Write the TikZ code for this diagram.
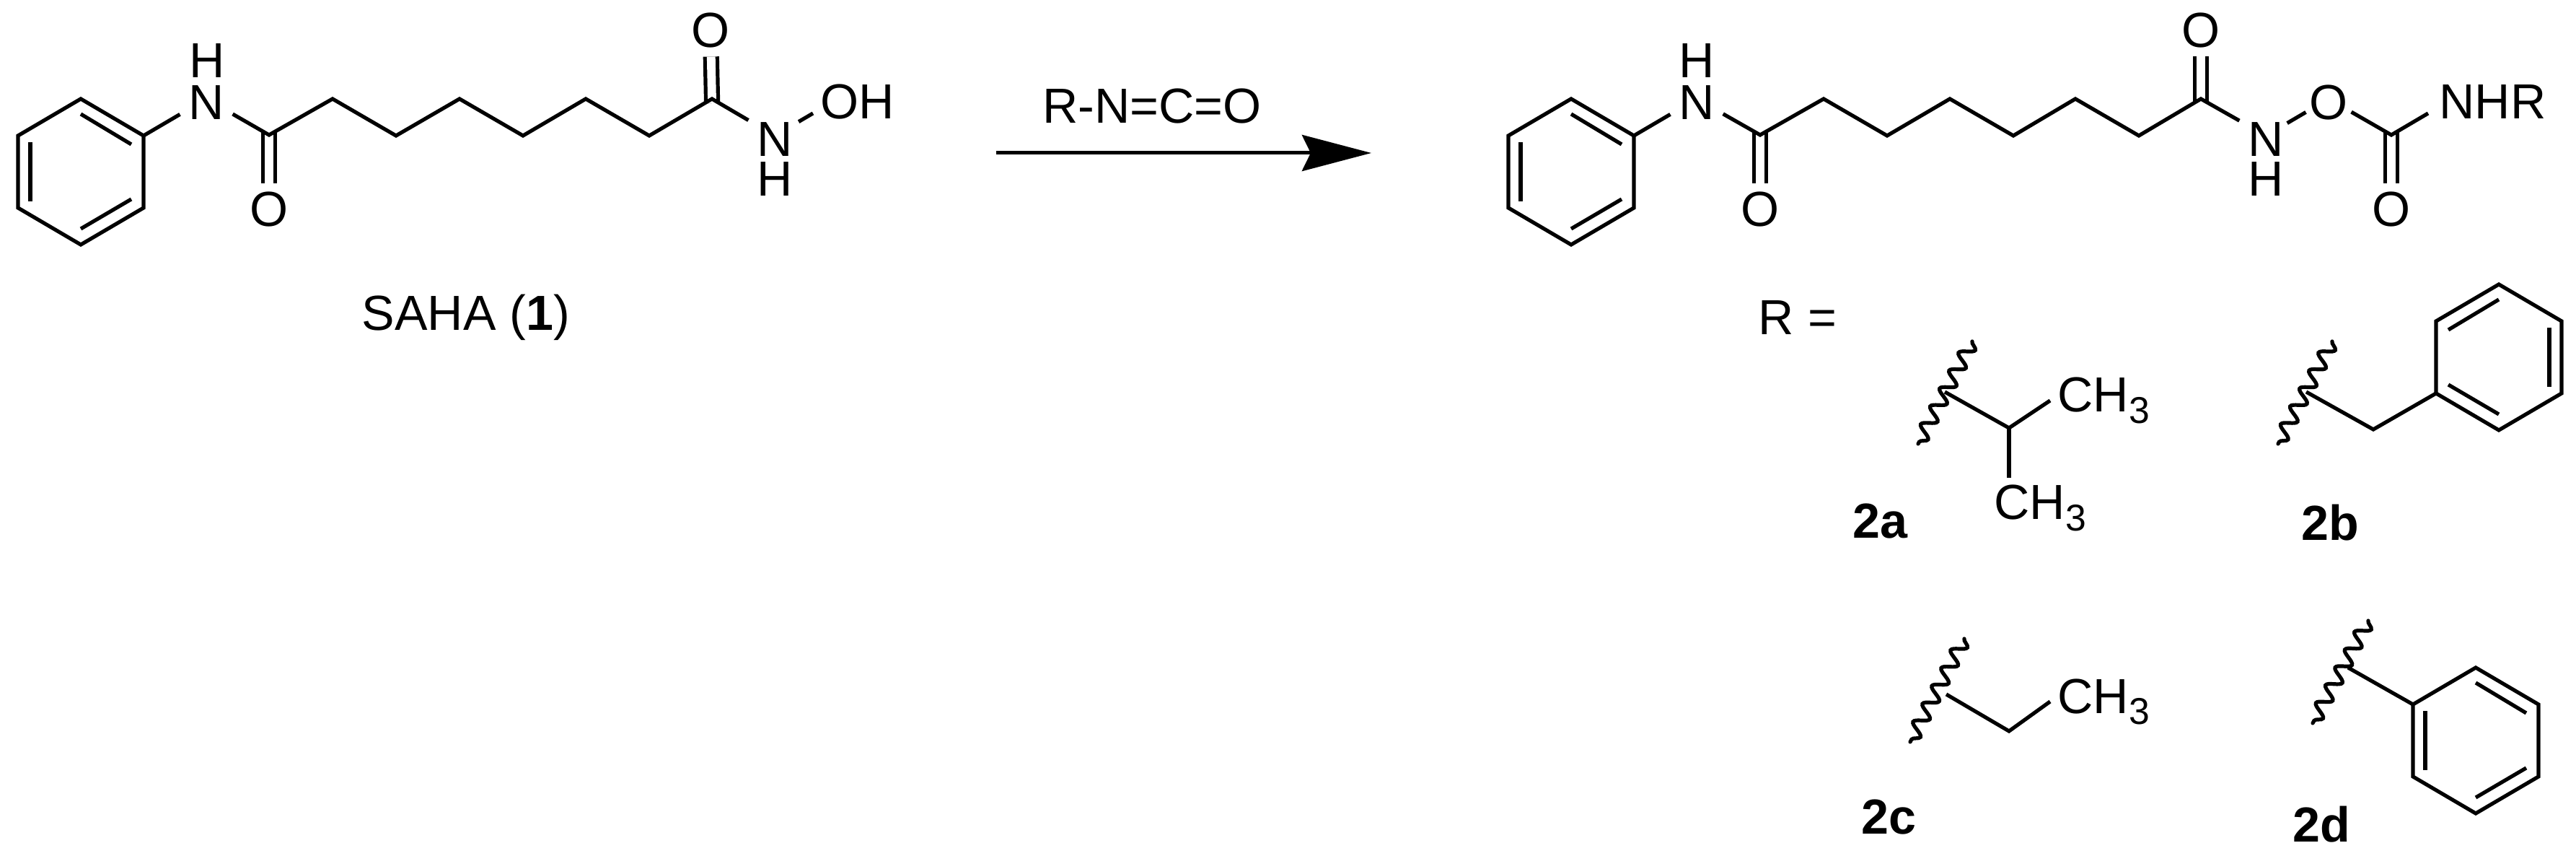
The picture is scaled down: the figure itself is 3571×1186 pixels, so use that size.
\documentclass[tikz,border=0pt]{standalone}
\usepackage{fontspec}
\setmainfont{Liberation Sans}
\usetikzlibrary{arrows.meta,decorations.pathmorphing}

\newcommand{\phring}[4]{
    \begin{scope}[shift={(#2,#3)}, xscale=#4]
        \coordinate (#1a) at (0,-101);
        \coordinate (#1b) at (87,-50);
        \coordinate (#1c) at (87,50);
        \coordinate (#1d) at (0,101);
        \coordinate (#1e) at (-87,50);
        \coordinate (#1f) at (-87,-50);
        \coordinate (#1p) at (0,-80);
        \coordinate (#1q) at (70,-38);
        \coordinate (#1r) at (70,38);
        \coordinate (#1s) at (0,79);
        \coordinate (#1t) at (-70,-41);
        \coordinate (#1u) at (-70,41);
        \draw[bond] (#1a) -- (#1b) -- (#1c) -- (#1d) -- (#1e) -- (#1f) -- cycle;
        \draw[bond] (#1p) -- (#1q);
        \draw[bond] (#1r) -- (#1s);
        \draw[bond] (#1t) -- (#1u);
    \end{scope}
}
\newcommand{\methyl}{CH\raisebox{-4.3pt}{\fontsize{14.7}{15}\selectfont 3}}

\begin{document}
\begin{tikzpicture}[x=0.01cm, y=-0.01cm,
        every node/.style={font=\fontsize{19.4}{20}\selectfont, inner sep=0pt},
        bond/.style={line width=.052cm},
        dbl/.style={line width=.052cm, double distance=.118cm, shorten <=-.06cm},
        atom/.style={text height=16pt, text depth=0pt},
        oxy/.style={circle, minimum size=.68cm},
        wave/.style={line width=.052cm, line cap=round, decorate, decoration={snake, amplitude=.095cm, segment length=.28cm}}]
    \useasboundingbox (0,0) rectangle (3571,1186);

    \foreach \name/\px/\py in {c1/373/187, c2/461/137, c3/549/188, c4/637/137, c5/725/188, c6/812/137, c7/900/188, c8/987/137,
            d1/2440/187, d2/2528/137, d3/2616/188, d4/2703/137, d5/2791/188, d6/2877/137, d7/2965/188, d8/3051/137, d9/3315/187,
            am/2785/593, ai/2734/473, aj/2696/543, ak/2659/615,
            bm/3290/595, bi/3233/473, bj/3197/543, bk/3158/615,
            cm/2785/1013, ci/2723/885, cj/2698/962, ck/2648/1028,
            di/3283/860, dj/3255/925, dk/3206/1002, as/1381/212, ae/1901/212}
        \coordinate (\name) at (\px,\py);

    \node[atom] (n1) at (286,137) {N};
    \node (h1) at (287,84) {H};
    \node[oxy] (o1) at (373,290) {O};
    \node[oxy] (o2) at (985,42) {O};
    \node[atom] (n2) at (1074,188) {N};
    \node (h2) at (1074,248) {H};
    \node[anchor=west, inner xsep=.1cm] (oh) at (1127,141) {OH};
    \node (saha) at (646,440) {SAHA (\textbf{1})};

    \node (reagent) at (1597,147) {R-N=C=O};
    \draw[line width=.05cm, -{Stealth[length=.96cm, width=.5cm, inset=.12cm]}] (as) -- (ae);

    \node[atom] (n3) at (2352,137) {N};
    \node (h3) at (2352,84) {H};
    \node[oxy] (o3) at (2440,290) {O};
    \node[oxy] (o4) at (3051,42) {O};
    \node[atom] (n4) at (3141,188) {N};
    \node (h4) at (3141,248) {H};
    \node[atom] (o5) at (3228,137) {O};
    \node[oxy] (o6) at (3315,290) {O};
    \node[anchor=west, inner xsep=.15cm] (nhr) at (3366,141) {NHR};
    \node (requals) at (2492,440) {R =};

    \node[anchor=west, inner xsep=.1cm] (ch3a) at (2842,555) {\methyl};
    \node[anchor=base west, inner ysep=.1cm] (ch3b) at (2764,720) {\methyl};
    \node[anchor=west, inner xsep=.1cm] (ch3c) at (2842,972) {\methyl};
    \node (l2a) at (2607,722) {\textbf{2a}};
    \node (l2b) at (3230,724) {\textbf{2b}};
    \node (l2c) at (2618,1132) {\textbf{2c}};
    \node (l2d) at (3218,1142) {\textbf{2d}};

    \phring{pa}{112}{238}{1}
    \phring{pb}{2178}{238}{1}
    \phring{pc}{3464}{495}{-1}
    \phring{pd}{3432}{1026}{1}

    \draw[dbl] (c1) -- (o1);
    \draw[dbl] (c8) -- (o2);
    \draw[dbl] (d1) -- (o3);
    \draw[dbl] (d8) -- (o4);
    \draw[dbl] (d9) -- (o6);

    \draw[bond, shorten >=.13cm] (pab) -- (n1);
    \draw[bond, shorten <=.13cm, shorten >=.13cm] (n1) -- (c1) -- (c2) -- (c3) -- (c4) -- (c5) -- (c6) -- (c7) -- (c8) -- (n2);
    \draw[bond, shorten <=.09cm] (n2) -- ([yshift=-.16cm]oh.west);

    \draw[bond, shorten >=.13cm] (pbb) -- (n3);
    \draw[bond, shorten <=.13cm, shorten >=.13cm] (n3) -- (d1) -- (d2) -- (d3) -- (d4) -- (d5) -- (d6) -- (d7) -- (d8) -- (n4);
    \draw[bond, shorten <=.05cm, shorten >=.05cm] (n4) -- (o5);
    \draw[bond, shorten <=.05cm] (o5) -- (d9) -- ([yshift=-.16cm]nhr.west);

    \draw[wave] (ai) -- (ak);
    \draw[bond] (aj) -- (am) -- (ch3a.west);
    \draw[bond] (am) -- (am |- ch3b.north);

    \draw[wave] (bi) -- (bk);
    \draw[bond] (bj) -- (bm) -- (pcc);

    \draw[wave] (ci) -- (ck);
    \draw[bond] (cj) -- (cm) -- (ch3c.west);

    \draw[wave] (di) -- (dk);
    \draw[bond] (dj) -- (pdf);
\end{tikzpicture}
\end{document}
